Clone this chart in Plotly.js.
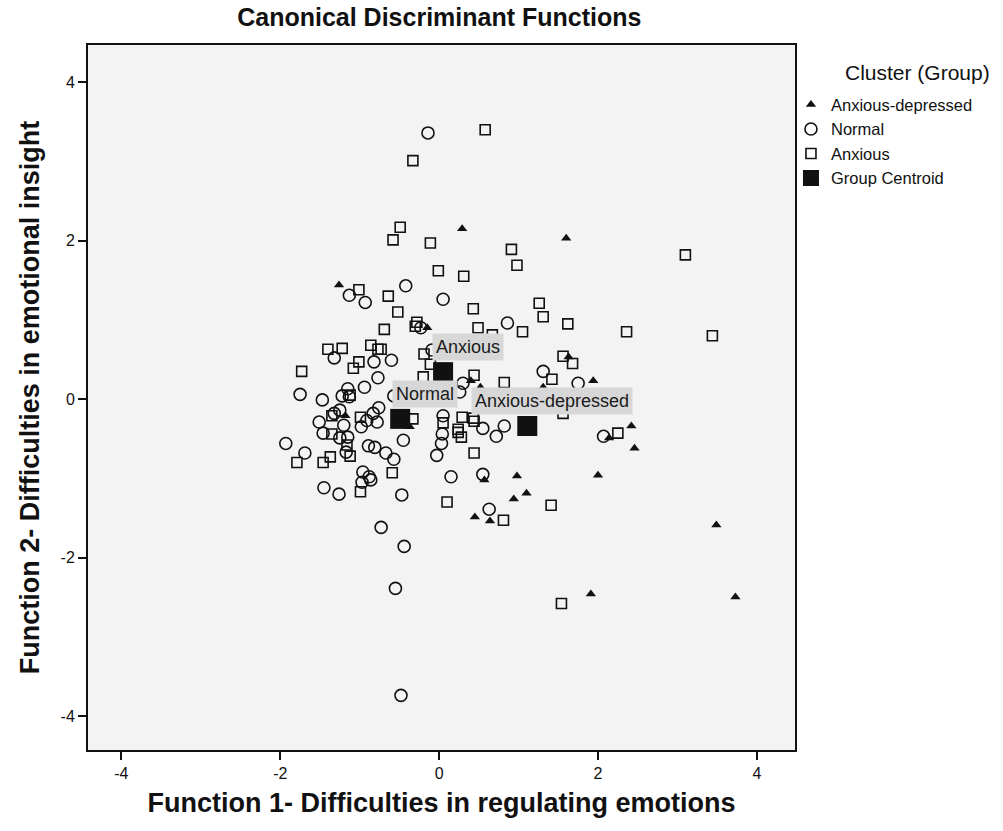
<!DOCTYPE html>
<html>
<head>
<meta charset="utf-8">
<script src="https://cdn.plot.ly/plotly-3.0.1.min.js"></script>
<style>html,body{margin:0;padding:0;background:#fff;}#chart{width:1003px;height:831px;}</style>
</head>
<body>
<div id="chart"></div>
<script>
// Anxious-depressed (triangles)
const adX = [-1.26,-0.15,-1.18,-0.37,0.29,1.60,1.63,1.94,0.40,0.52,1.31,2.42,2.14,2.46,0.57,0.98,2.00,1.10,0.94,0.45,0.64,1.91,3.49,3.73];
const adY = [1.44,0.90,-0.21,-0.35,2.15,2.03,0.53,0.23,0.23,0.15,0.15,-0.34,-0.49,-0.62,-1.02,-0.97,-0.96,-1.19,-1.26,-1.49,-1.54,-2.46,-1.59,-2.50];

// Normal (circles)
const nX = [-1.13,-0.93,-0.42,0.05,-0.23,-0.14,-1.32,-0.60,-0.82,-0.77,-0.09,-0.94,-1.75,-1.47,-1.15,-1.13,-1.22,-0.57,-1.25,-1.32,-1.51,-0.83,-0.76,-0.78,-0.91,0.05,-1.20,-0.98,-1.46,-1.25,-1.15,-1.93,-1.69,-1.17,-0.89,-0.81,-0.67,-0.57,-0.45,0.04,0.03,-0.03,-0.96,-0.88,-0.86,-0.97,0.15,-1.45,-1.26,-0.47,-0.73,-0.44,-0.55,-0.48,0.55,0.82,0.72,0.55,0.63,0.86,1.31,1.75,2.07,0.30,0.26];
const nY = [1.31,1.22,1.43,1.26,0.90,3.36,0.52,0.49,0.47,0.27,0.62,0.15,0.06,-0.01,0.13,0.03,0.04,0.04,-0.14,-0.18,-0.29,-0.18,-0.11,-0.29,-0.27,-0.21,-0.33,-0.35,-0.43,-0.49,-0.48,-0.56,-0.68,-0.67,-0.59,-0.61,-0.68,-0.76,-0.52,-0.44,-0.56,-0.71,-0.92,-0.98,-1.02,-1.05,-0.98,-1.12,-1.20,-1.21,-1.62,-1.86,-2.39,-3.74,-0.37,-0.34,-0.47,-0.95,-1.39,0.96,0.35,0.20,-0.47,0.20,0.09];

// Anxious (squares)
const aX = [-1.01,-0.64,-0.01,-0.52,-0.28,-0.30,-0.69,-1.40,-1.22,-0.86,-0.77,-0.73,-1.01,-1.08,-1.73,-0.19,-0.11,-0.20,-1.12,-1.35,-0.99,-0.33,0.05,-1.35,-1.16,-1.12,-1.79,-1.46,-1.37,-0.59,-0.99,0.10,0.24,0.28,0.44,0.29,0.43,0.24,0.44,0.44,0.82,1.42,1.56,1.68,1.62,2.36,1.05,1.26,1.31,0.49,0.67,0.43,0.31,0.58,-0.33,-0.49,-0.58,-0.11,0.91,0.98,3.10,2.25,1.56,1.41,0.81,1.54,3.44];
const aY = [1.38,1.30,1.62,1.10,0.97,0.92,0.88,0.63,0.64,0.68,0.63,0.63,0.47,0.39,0.35,0.57,0.44,0.28,0.05,-0.21,-0.23,-0.25,-0.30,-0.44,-0.58,-0.72,-0.80,-0.80,-0.73,-0.93,-1.17,-1.30,-0.42,-0.48,-0.28,-0.23,-0.24,-0.38,-0.68,0.30,0.21,0.25,0.54,0.45,0.95,0.85,0.85,1.21,1.04,0.90,0.81,1.14,1.55,3.40,3.01,2.17,2.01,1.97,1.89,1.69,1.82,-0.43,-0.18,-1.34,-1.53,-2.58,0.80];

// Group centroids
const centroidNames = ["Anxious-depressed","Normal","Anxious"];
const centroidX = [1.11,-0.49,0.05];
const centroidY = [-0.34,-0.25,0.34];

// Tick labels
const tickVals = [-4,-2,0,2,4];
const tickText = ["-4","-2","0","2","4"];
const legendTitle = "Cluster (Group)";

const FONT = "Arial, 'Liberation Sans', sans-serif";
const ink = "#111111";

const traces = [
  {type:"scatter", mode:"markers", name:"Anxious-depressed", x:adX, y:adY,
   marker:{symbol:"triangle-up", size:9, color:ink, line:{width:0}}},
  {type:"scatter", mode:"markers", name:"Normal", x:nX, y:nY,
   marker:{symbol:"circle-open", size:12, color:ink, line:{width:1.6, color:ink}}},
  {type:"scatter", mode:"markers", name:"Anxious", x:aX, y:aY,
   marker:{symbol:"square-open", size:10, color:ink, line:{width:1.6, color:ink}}},
  {type:"scatter", mode:"markers", name:"Group Centroid", x:centroidX, y:centroidY,
   marker:{symbol:"square", size:20, color:ink, line:{width:0}}}
];

const annotations = centroidNames.map((n,i)=>({
  x:centroidX[i], y:centroidY[i], xref:"x", yref:"y", text:n, showarrow:false,
  xanchor:"center", yanchor:"bottom", xshift:25, yshift:11,
  bgcolor:"#d7d7d7", borderpad:3, font:{family:FONT, size:18, color:"#1a1a1a"}
}));
annotations.push({
  x:1.1726, y:0.9617, xref:"paper", yref:"paper", text:legendTitle, showarrow:false,
  xanchor:"center", yanchor:"middle", font:{family:FONT, size:21, color:"#111"}
});

const axisCommon = {
  tickvals:tickVals, ticktext:tickText, ticks:"outside", ticklen:8, tickwidth:2, tickcolor:"#111",
  showgrid:false, zeroline:false, showline:true, mirror:true, linecolor:"#111", linewidth:2,
  tickfont:{family:FONT, size:16, color:"#111"}
};

const layout = {
  width:1003, height:831,
  margin:{l:88, r:208, t:45, b:81, pad:0, autoexpand:false},
  paper_bgcolor:"#ffffff", plot_bgcolor:"#f3f3f3",
  font:{family:FONT, color:"#111"},
  title:{text:"Canonical Discriminant Functions", font:{family:FONT, size:25, weight:"bold", color:"#111"},
         x:0.438, xanchor:"center", y:0.979, yanchor:"middle"},
  xaxis:Object.assign({}, axisCommon, {range:[-4.42,4.48],
         title:{text:"Function 1- Difficulties in regulating emotions", font:{family:FONT, size:27, weight:"bold", color:"#111"}, standoff:12}}),
  yaxis:Object.assign({}, axisCommon, {range:[-4.43,4.47],
         title:{text:"Function 2- Difficulties in emotional insight", font:{family:FONT, size:27, weight:"bold", color:"#111"}, standoff:13}}),
  legend:{x:0.9943, y:0.94, xanchor:"left", yanchor:"top", bgcolor:"rgba(0,0,0,0)",
          font:{family:FONT, size:16.5, color:"#111"}, tracegroupgap:0, itemwidth:30},
  annotations:annotations,
  showlegend:true
};

Plotly.newPlot("chart", traces, layout, {displayModeBar:false, staticPlot:true});
</script>
</body>
</html>
